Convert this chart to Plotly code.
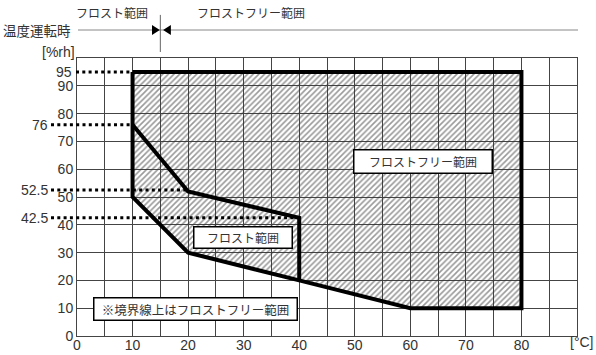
import plotly.graph_objects as go

# ---- data ----
outer_x = [10, 80, 80, 60, 40, 20, 10, 10]
outer_y = [95, 95, 10, 10, 20, 30, 50, 95]
inner_x = [10, 20, 40, 40]
inner_y = [76, 52, 42.5, 20]
x_ticks = [0, 5, 10, 15, 20, 25, 30, 35, 40, 45, 50, 55, 60, 65, 70, 75, 80, 85, 90]
x_ticktext = ["0", "", "10", "", "20", "", "30", "", "40", "", "50", "", "60", "", "70", "", "80", "", ""]
y_ticks = [0, 10, 20, 30, 40, 50, 60, 70, 80, 90, 100]
y_ticktext = ["0", "10", "20", "30", "40", "50", "60", "70", "80", "90", ""]
ref_levels = [95, 76, 52.5, 42.5]
ref_labels = ["95", "76", "52.5", "42.5"]
ref_xend = [10, 10, 20, 40]
ref_xstart = [-0.002, -0.052, -0.052, -0.052]   # paper coords
boundary_temp = 15
X_MAX, Y_MAX = 90, 100

NUM_FONT = "Liberation Sans, Arial, sans-serif"
JP_FONT = "Noto Sans CJK JP, sans-serif"
TXT = "#333333"

fig = go.Figure()
fig.add_trace(go.Scatter(
    x=outer_x, y=outer_y, mode="lines", fill="toself",
    fillcolor="rgba(0,0,0,0)",
    fillpattern=dict(shape="/", size=4, solidity=0.4, fgcolor="#333333",
                     bgcolor="rgba(0,0,0,0)"),
    line=dict(color="black", width=4), hoverinfo="skip", showlegend=False))
fig.add_trace(go.Scatter(
    x=inner_x, y=inner_y, mode="lines",
    line=dict(color="black", width=4), hoverinfo="skip", showlegend=False))

shapes = []
annotations = []
for lvl, lab, xe, xs in zip(ref_levels, ref_labels, ref_xend, ref_xstart):
    shapes.append(dict(type="line", xref="paper", yref="y", x0=xs, x1=xe / X_MAX,
                       y0=lvl, y1=lvl, line=dict(color="black", width=3, dash="3px,3.3px")))
    xa = -0.006 if lvl == 95 else -0.054
    annotations.append(dict(xref="paper", yref="y", x=xa, y=lvl, text=lab,
                            showarrow=False, xanchor="right", yanchor="middle",
                            font=dict(family=NUM_FONT, size=14, color=TXT)))

# top legend line
shapes.append(dict(type="line", xref="paper", yref="paper", x0=0.002, x1=1.002,
                   y0=1.1007, y1=1.1007, line=dict(color="#888888", width=1)))
shapes.append(dict(type="line", xref="x", yref="paper", x0=boundary_temp, x1=boundary_temp,
                   y0=1.0216, y1=1.155, line=dict(color="#666666", width=1)))
shapes.append(dict(type="path", xref="x", yref="paper",
                   path=f"M {boundary_temp-1.5},1.1187 L {boundary_temp-1.5},1.0827 L {boundary_temp-0.1},1.1007 Z",
                   fillcolor="black", line=dict(width=0)))
shapes.append(dict(type="path", xref="x", yref="paper",
                   path=f"M {boundary_temp+1.9},1.1187 L {boundary_temp+1.9},1.0827 L {boundary_temp+0.5},1.1007 Z",
                   fillcolor="black", line=dict(width=0)))

def top_text(x, y, text, size=12, xanchor="center"):
    return dict(xref="paper", yref="paper", x=x, y=y, text=text, showarrow=False,
                xanchor=xanchor, yanchor="middle", font=dict(family=JP_FONT, size=size, color=TXT))

annotations += [
    top_text(0.07, 1.165, "フロスト範囲"),
    top_text(0.348, 1.165, "フロストフリー範囲"),
    top_text(-0.08, 1.1007, "温度運転時", size=13.5),
    dict(xref="paper", yref="paper", x=0.0, y=1.02, text="[%rh]", showarrow=False,
         xanchor="right", yanchor="middle", font=dict(family=NUM_FONT, size=14, color=TXT)),
    dict(xref="paper", yref="paper", x=1.01, y=-0.022, text="[°C]", showarrow=False,
         xanchor="center", yanchor="middle", font=dict(family=NUM_FONT, size=14, color=TXT)),
    dict(x=62.3, y=62.6, text="フロストフリー範囲", showarrow=False, bgcolor="white",
         bordercolor="black", borderwidth=1.5, borderpad=2, width=133, height=18,
         xanchor="center", yanchor="middle",
         font=dict(family=JP_FONT, size=12, color=TXT)),
    dict(x=29.9, y=35.6, text="フロスト範囲", showarrow=False, bgcolor="white",
         bordercolor="black", borderwidth=1.5, borderpad=2, width=93, height=16,
         xanchor="center", yanchor="middle",
         font=dict(family=JP_FONT, size=12, color=TXT)),
    dict(x=21.3, y=9.7, text="※境界線上はフロストフリー範囲", showarrow=False, bgcolor="white",
         bordercolor="black", borderwidth=1.5, borderpad=2, width=198, height=17,
         xanchor="center", yanchor="middle",
         font=dict(family=JP_FONT, size=12.5, color=TXT)),
]

fig.update_layout(
    width=596, height=355,
    margin=dict(l=77, r=19, t=58, b=19, autoexpand=False),
    paper_bgcolor="white", plot_bgcolor="white",
    shapes=shapes, annotations=annotations, showlegend=False,
    xaxis=dict(range=[0, X_MAX], tickmode="array", tickvals=x_ticks, ticktext=x_ticktext,
               showgrid=True, gridcolor="#444444", gridwidth=1, zeroline=False,
               showline=True, linecolor="#444444", linewidth=1, mirror=True,
               ticks="", automargin=False, ticklabelstandoff=-4,
               tickfont=dict(family=NUM_FONT, size=14, color=TXT)),
    yaxis=dict(range=[0, Y_MAX], tickmode="array", tickvals=y_ticks, ticktext=y_ticktext,
               showgrid=True, gridcolor="#444444", gridwidth=1, zeroline=False,
               showline=True, linecolor="#444444", linewidth=1, mirror=True,
               ticks="", automargin=False,
               tickfont=dict(family=NUM_FONT, size=14, color=TXT)),
)

fig.write_html("out.html")
